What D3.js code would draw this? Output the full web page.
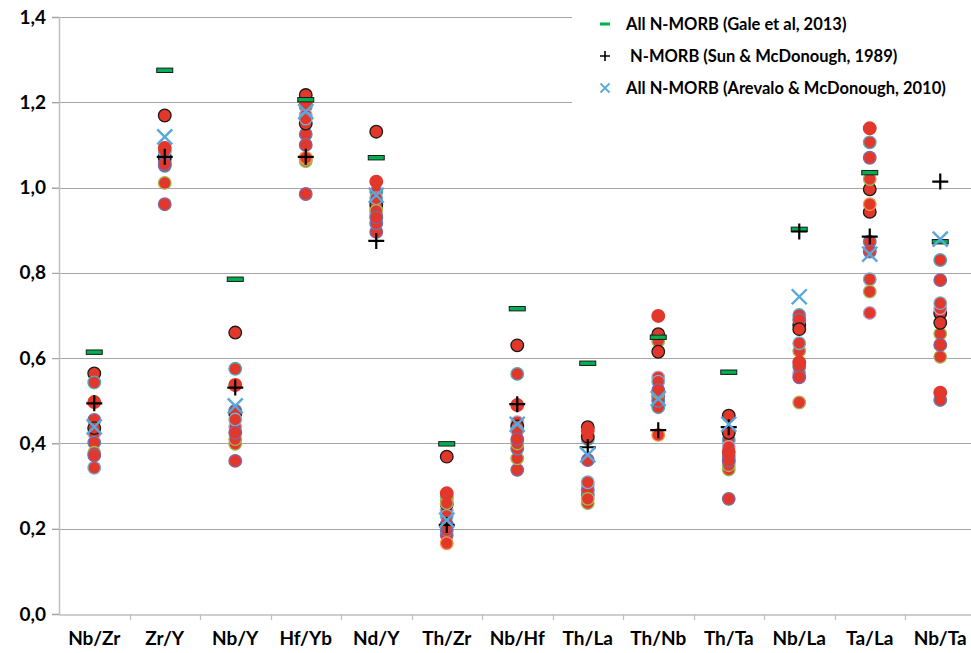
<!DOCTYPE html>
<html>
<head>
<meta charset="utf-8">
<script src="https://cdn.jsdelivr.net/npm/d3@7/dist/d3.min.js"></script>
<style>
  html, body { margin: 0; padding: 0; background: #fff; }
  svg { display: block; }
  text { font-family: Lato, "Open Sans", sans-serif; font-weight: bold; fill: #000; }
</style>
</head>
<body>
<svg id="chart" width="971" height="653"></svg>
<script>
// Trace-element ratios, normalised
const ratios = ["Nb/Zr", "Zr/Y", "Nb/Y", "Hf/Yb", "Nd/Y", "Th/Zr", "Nb/Hf", "Th/La", "Th/Nb", "Th/Ta", "Nb/La", "Ta/La", "Nb/Ta"];
const yTicks = [0, 0.2, 0.4, 0.6, 0.8, 1.0, 1.2, 1.4];

// Reference compositions
const galeNMORB    = [0.614, 1.275, 0.785, 1.206, 1.070, 0.399, 0.716, 0.588, 0.649, 0.567, 0.902, 1.035, 0.873];
const sunNMORB     = [0.494, 1.072, 0.531, 1.072, 0.875, 0.209, 0.492, 0.391, 0.431, 0.438, 0.897, 0.885, 1.014];
const arevaloNMORB = [0.439, 1.119, 0.488, 1.178, 0.982, 0.220, 0.445, 0.373, 0.505, 0.445, 0.744, 0.844, 0.879];

// Samples (one series each)
const sample01 = [0.564, 1.169, 0.660, 1.217, 1.131, 0.369, 0.630, 0.438, 0.656, 0.465, 0.678, 0.996, 0.705];
const sample02 = [0.543, 1.075, 0.575, 1.190, 0.990, 0.275, 0.563, 0.410, 0.485, 0.408, 0.701, 1.106, 0.830];
const sample03 = [0.455, 0.961, 0.359, 0.985, 0.896, 0.185, 0.338, 0.279, 0.510, 0.270, 0.690, 1.070, 0.783];
const sample04 = [0.435, 1.065, 0.399, 1.062, 0.951, 0.268, 0.365, 0.260, 0.640, 0.339, 0.617, 1.020, 0.657];
const sample05 = [0.424, 1.060, 0.439, 1.170, 0.940, 0.242, 0.450, 0.302, 0.555, 0.392, 0.564, 0.706, 0.717];
const sample06 = [0.402, 1.051, 0.477, 1.125, 0.916, 0.197, 0.388, 0.290, 0.500, 0.370, 0.580, 0.873, 0.502];
const sample07 = [0.436, 1.070, 0.470, 1.150, 0.960, 0.258, 0.440, 0.416, 0.615, 0.425, 0.668, 0.943, 0.683];
const sample08 = [0.343, 1.085, 0.456, 1.162, 0.975, 0.230, 0.430, 0.309, 0.545, 0.357, 0.635, 0.785, 0.729];
const sample09 = [0.378, 1.011, 0.410, 1.066, 0.945, 0.260, 0.400, 0.270, 0.520, 0.349, 0.496, 0.756, 0.603];
const sample10 = [0.372, 1.055, 0.425, 1.100, 0.930, 0.210, 0.410, 0.361, 0.525, 0.360, 0.555, 0.850, 0.631];
const sample11 = [0.497, 1.093, 0.537, 1.200, 1.014, 0.283, 0.490, 0.430, 0.699, 0.380, 0.590, 1.139, 0.519];
const sample12 = [null, null, null, 1.070, null, 0.166, null, null, 0.420, null, null, 0.961, null];
const samples = [sample01, sample02, sample03, sample04, sample05, sample06, sample07, sample08, sample09, sample10, sample11, sample12];
const sampleOutlines = ["#1a1a1a", "#4bacc6", "#7f6aa8", "#9bbb59", "#b7a3d0", "#5b84c4", "#1a1a1a", "#6fb3d6", "#a4b95a", "#8064a2", "#e2382b", "#f79646"];

const legendLabels = ["All N-MORB (Gale et al, 2013)", " N-MORB (Sun & McDonough, 1989)", "All N-MORB (Arevalo & McDonough, 2010)"];

const svg = d3.select("#chart");
const margin = { left: 59, right: 0, top: 17, bottom: 39 };
const W = 971, H = 653;
const plotRight = 59 + 13 * 70.5;
const labelFont = "Lato, sans-serif";

const x = d3.scaleBand().domain(ratios).range([margin.left, plotRight]).padding(0);
const y = d3.scaleLinear().domain([0, 1.4]).range([H - margin.bottom, margin.top]);

// Horizontal gridlines
svg.append("g")
  .selectAll("line")
  .data(yTicks.filter(d => d > 0))
  .join("line")
  .attr("x1", margin.left - 7).attr("x2", W)
  .attr("y1", d => Math.round(y(d)) + 0.5).attr("y2", d => Math.round(y(d)) + 0.5)
  .attr("stroke", "#a6a6a6").attr("stroke-width", 1.2);

// Y axis
const yAxis = svg.append("g")
  .attr("transform", `translate(${margin.left},0)`)
  .call(d3.axisLeft(y).tickValues(yTicks).tickSize(7).tickPadding(6)
    .tickFormat(d => d3.format(".1f")(d).replace(".", ",")));
yAxis.select(".domain").attr("stroke", "#bfbfbf").attr("stroke-width", 1.5);
yAxis.selectAll(".tick line").attr("stroke", "#a6a6a6").attr("stroke-width", 1.2);
yAxis.selectAll(".tick text").attr("font-size", 19).attr("font-family", labelFont).attr("font-weight", 900).attr("fill", "#000");

// X axis
const xAxis = svg.append("g")
  .attr("transform", `translate(0,${Math.round(y(0)) + 0.5})`)
  .call(d3.axisBottom(x).tickSize(0).tickPadding(17));
xAxis.select(".domain").attr("stroke", "#bfbfbf").attr("stroke-width", 1.5);
xAxis.selectAll(".tick text").attr("font-size", 19).attr("font-family", labelFont).attr("font-weight", 900).attr("fill", "#000");
// Category separators
svg.append("g")
  .selectAll("line")
  .data(ratios.slice(1))
  .join("line")
  .attr("x1", d => Math.round(x(d)) + 0.5).attr("x2", d => Math.round(x(d)) + 0.5)
  .attr("y1", y(0)).attr("y2", y(0) + 6)
  .attr("stroke", "#bfbfbf").attr("stroke-width", 1.2);

const cx = d => x(d) + x.bandwidth() / 2;

// Sample points
samples.forEach((series, i) => {
  svg.append("g")
    .selectAll("circle")
    .data(ratios.map((r, j) => ({ r, v: series[j] })).filter(d => d.v != null))
    .join("circle")
    .attr("cx", d => cx(d.r))
    .attr("cy", d => y(d.v))
    .attr("r", 6.3)
    .attr("fill", "#e2382b")
    .attr("stroke", sampleOutlines[i])
    .attr("stroke-width", 1.3);
});

// Gale et al. 2013 — green dash
svg.append("g")
  .selectAll("rect")
  .data(ratios.map((r, j) => ({ r, v: galeNMORB[j] })))
  .join("rect")
  .attr("x", d => cx(d.r) - 8).attr("y", d => y(d.v) - 2.2)
  .attr("width", 16).attr("height", 4.4)
  .attr("fill", "#00b050").attr("stroke", "#1a1a1a").attr("stroke-width", 1);

// Sun & McDonough 1989 — black plus
const plusPath = s => `M${-s},0H${s}M0,${-s}V${s}`;
svg.append("g")
  .selectAll("path")
  .data(ratios.map((r, j) => ({ r, v: sunNMORB[j] })))
  .join("path")
  .attr("transform", d => `translate(${cx(d.r)},${y(d.v)})`)
  .attr("d", plusPath(8))
  .attr("stroke", "#000").attr("stroke-width", 2.2).attr("fill", "none");

// Arevalo & McDonough 2010 — blue cross
const crossPath = s => `M${-s},${-s}L${s},${s}M${-s},${s}L${s},${-s}`;
svg.append("g")
  .selectAll("path")
  .data(ratios.map((r, j) => ({ r, v: arevaloNMORB[j] })))
  .join("path")
  .attr("transform", d => `translate(${cx(d.r)},${y(d.v)})`)
  .attr("d", crossPath(7.5))
  .attr("stroke", "#58a8dc").attr("stroke-width", 2.4).attr("fill", "none");

// Legend
const legend = svg.append("g");
legend.append("rect").attr("x", 572).attr("y", 0).attr("width", W - 572).attr("height", 106).attr("fill", "#fff");
const legendY = [24, 56, 88];
legend.append("rect").attr("x", 600).attr("y", legendY[0] - 1.5).attr("width", 10).attr("height", 3).attr("fill", "#00b050");
legend.append("path").attr("transform", `translate(605,${legendY[1]})`).attr("d", plusPath(5)).attr("stroke", "#000").attr("stroke-width", 1.6);
legend.append("path").attr("transform", `translate(605,${legendY[2]})`).attr("d", crossPath(4.5)).attr("stroke", "#58a8dc").attr("stroke-width", 1.8);
legend.selectAll("text.lbl")
  .data(legendLabels)
  .join("text")
  .attr("class", "lbl")
  .attr("x", 626)
  .attr("y", (d, i) => legendY[i] + 5.5)
  .attr("font-size", 16.5)
  .attr("font-weight", 900)
  .style("white-space", "pre")
  .text(d => d);
</script>
</body>
</html>
